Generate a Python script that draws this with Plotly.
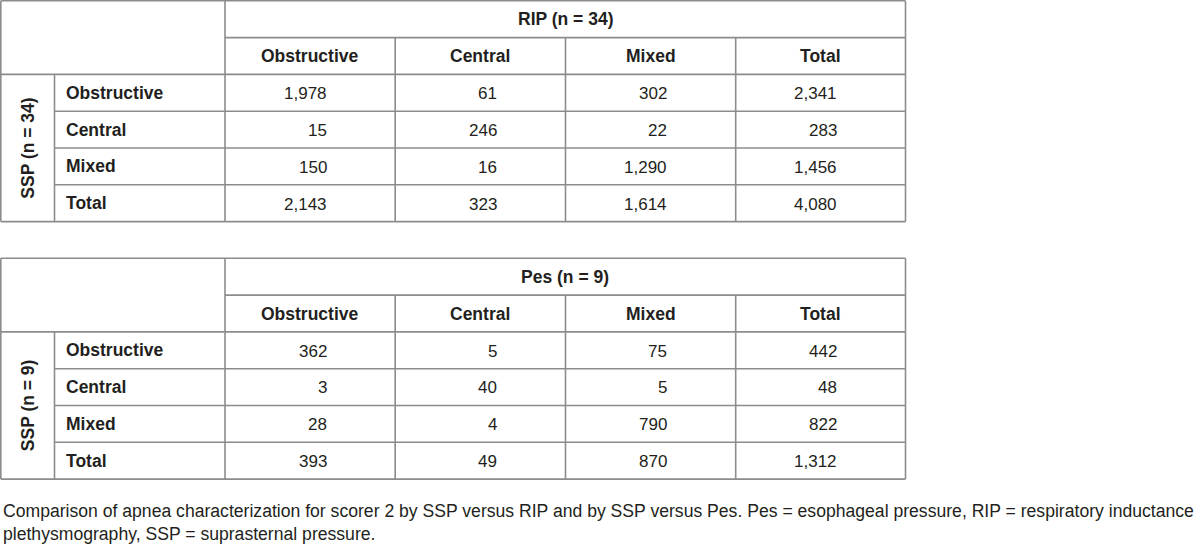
import plotly.graph_objects as go

# ---- data ----
categories = ["Obstructive", "Central", "Mixed", "Total"]
rip_title = "RIP (n = 34)"
ssp_rip_title = "SSP (n = 34)"
rip_values = [
    [1978, 61, 302, 2341],
    [15, 246, 22, 283],
    [150, 16, 1290, 1456],
    [2143, 323, 1614, 4080],
]
pes_title = "Pes (n = 9)"
ssp_pes_title = "SSP (n = 9)"
pes_values = [
    [362, 5, 75, 442],
    [3, 40, 5, 48],
    [28, 4, 790, 822],
    [393, 49, 870, 1312],
]
caption_lines = [
    "Comparison of apnea characterization for scorer 2 by SSP versus RIP and by SSP versus Pes. Pes = esophageal pressure, RIP = respiratory inductance",
    "plethysmography, SSP = suprasternal pressure.",
]

# ---- layout geometry (page pixels) ----
W, H = 1200, 548
COLS = [0.8, 54.5, 225, 395.2, 565.5, 735.7, 905.5]
ROW_H = 36.8
TOPS = [0.8, 258.3]
LINE = dict(color="#8c8c8c", width=1.6)
FONT = "Liberation Sans, Arial, sans-serif"
TXT = "#231f20"
FS_BOLD = 17.5
FS_NUM = 17
FS_CAP = 17.6

fig = go.Figure()
shapes = []
annotations = []


def hline(x0, x1, y):
    shapes.append(dict(type="line", xref="x", yref="y", x0=x0, x1=x1, y0=y, y1=y, line=LINE))


def vline(x, y0, y1):
    shapes.append(dict(type="line", xref="x", yref="y", x0=x, x1=x, y0=y0, y1=y1, line=LINE))


def text(x, y, s, bold=False, xanchor="center", size=FS_BOLD, angle=0):
    annotations.append(dict(
        xref="x", yref="y", x=x, y=y, text=f"<b>{s}</b>" if bold else s,
        showarrow=False, xanchor=xanchor, yanchor="middle", textangle=angle,
        font=dict(family=FONT, size=size, color=TXT),
    ))


def draw_table(top, title, side_title, values):
    ys = [top + i * ROW_H for i in range(7)]
    bottom = ys[-1]
    hline(COLS[0], COLS[-1], ys[0])
    hline(COLS[2], COLS[-1], ys[1])
    hline(COLS[0], COLS[-1], ys[2])
    for k in range(3, 6):
        hline(COLS[1], COLS[-1], ys[k])
    hline(COLS[0], COLS[-1], bottom)
    vline(COLS[0], ys[0], bottom)
    vline(COLS[1], ys[2], bottom)
    vline(COLS[2], ys[0], bottom)
    for c in COLS[3:6]:
        vline(c, ys[1], bottom)
    vline(COLS[-1], ys[0], bottom)
    text((COLS[2] + COLS[-1]) / 2, (ys[0] + ys[1]) / 2, title, bold=True)
    for j, cat in enumerate(categories):
        cx = (COLS[2 + j] + COLS[3 + j]) / 2
        text(cx, (ys[1] + ys[2]) / 2, cat, bold=True)
    text((COLS[0] + COLS[1]) / 2, (ys[2] + bottom) / 2, side_title, bold=True, angle=-90)
    for i, cat in enumerate(categories):
        cy = (ys[2 + i] + ys[3 + i]) / 2
        text(COLS[1] + 9, cy, cat, bold=True, xanchor="left")
        for j, v in enumerate(values[i]):
            cx = (COLS[2 + j] + COLS[3 + j]) / 2
            text(cx + 18.5, cy + 0.8, f"{v:,}", xanchor="right", size=FS_NUM)


draw_table(TOPS[0], rip_title, ssp_rip_title, rip_values)
draw_table(TOPS[1], pes_title, ssp_pes_title, pes_values)

text(0.5, 511, caption_lines[0], xanchor="left", size=FS_CAP)
text(0.5, 533.5, caption_lines[1], xanchor="left", size=FS_CAP)

fig.update_layout(
    width=W, height=H,
    margin=dict(l=0, r=0, t=0, b=0),
    paper_bgcolor="white", plot_bgcolor="white",
    xaxis=dict(range=[0, W], visible=False, fixedrange=True),
    yaxis=dict(range=[H, 0], visible=False, fixedrange=True),
    shapes=shapes, annotations=annotations,
    showlegend=False,
)
fig.write_html(
    "out.html",
    config={"displayModeBar": False},
    post_script="document.body.style.margin='0';document.body.style.overflow='hidden';",
)
